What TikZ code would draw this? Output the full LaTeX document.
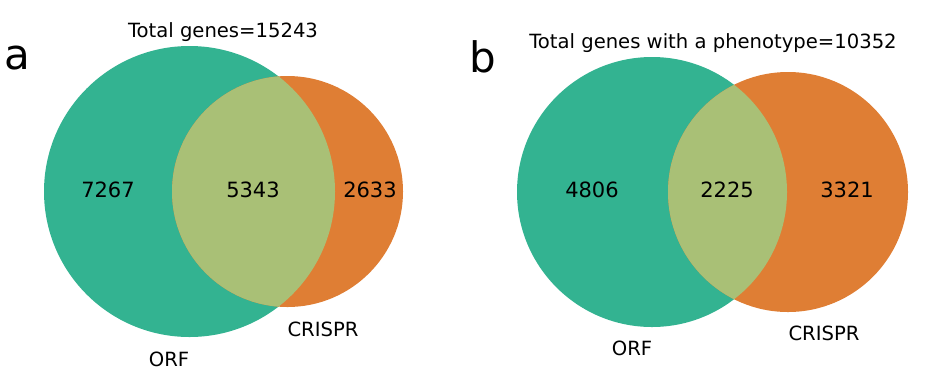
\documentclass[tikz,border=0pt]{standalone}
\usepackage{fontspec}
\setmainfont{DejaVu Sans}
\definecolor{orfcol}{HTML}{33B391}
\definecolor{crisprcol}{HTML}{DF7E34}
\definecolor{bothcol}{HTML}{A9C076}
\tikzset{
  lbl/.style={inner sep=0pt, font=\fontsize{19.6}{22}\selectfont},
  num/.style={inner sep=0pt, font=\fontsize{21}{24}\selectfont},
  panel/.style={inner sep=0pt, font=\fontsize{42}{46}\selectfont}
}
\begin{document}
\begin{tikzpicture}[x=1pt, y=-1pt]
      \useasboundingbox (0, 0) rectangle (928, 384);
      % panel a
      \fill[orfcol](189.5, 191.5) circle (145.5);
      \fill[crisprcol](287.5, 191.5) circle (115.5);
      \begin{scope}
        \clip(189.5, 191.5) circle (145.5);
        \fill[bothcol](287.5, 191.5) circle (115.5);
      \end{scope}
      \node[panel] (pa) at (17, 58){a};
      \node[lbl] (totalA) at (223, 32){Total genes=15243};
      \node[num] (orfonlyA) at (108, 190){7267};
      \node[num] (bothA) at (253, 190){5343};
      \node[num] (crispronlyA) at (370, 190){2633};
      \node[lbl] (crisprA) at (323, 329){CRISPR};
      \node[lbl] (orfA) at (169, 359){ORF};

      % panel b
      \fill[orfcol](652, 192) circle (135);
      \fill[crisprcol](788, 192) circle (120);
      \begin{scope}
        \clip(652, 192) circle (135);
        \fill[bothcol](788, 192) circle (120);
      \end{scope}
      \node[panel] (pb) at (483, 57){b};
      \node[lbl] (totalB) at (713, 43){Total genes with a phenotype=10352};
      \node[num] (orfonlyB) at (592, 190){4806};
      \node[num] (bothB) at (727, 190){2225};
      \node[num] (crispronlyB) at (847, 190){3321};
      \node[lbl] (crisprB) at (824, 333){CRISPR};
      \node[lbl] (orfB) at (632, 348){ORF};
\end{tikzpicture}
\end{document}
